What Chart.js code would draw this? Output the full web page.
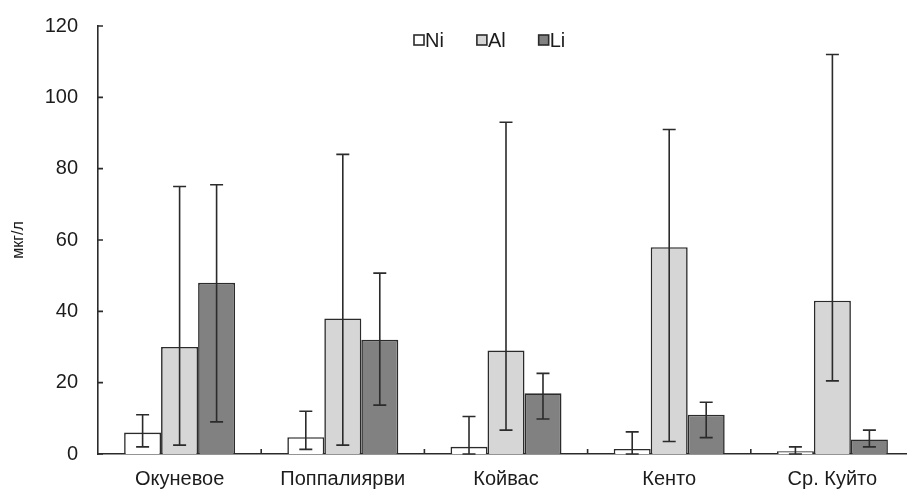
<!DOCTYPE html>
<html>
<head>
<meta charset="utf-8">
<script src="https://cdn.jsdelivr.net/npm/chart.js@4/dist/chart.umd.min.js"></script>
<style>
  html, body { margin: 0; padding: 0; background: #fff; overflow: hidden; }
  #wrap { width: 920px; height: 489px; }
</style>
</head>
<body>
<div id="wrap"><canvas id="chart"></canvas></div>
<script>
// values (мкг/л)
const categories = ['Окуневое', 'Поппалиярви', 'Койвас', 'Кенто', 'Ср. Куйто'];
const yTicks = [0, 20, 40, 60, 80, 100, 120];

const ni     = [6, 4.7, 2, 1.4, 0.8];
const niLow  = [2, 1.3, 0, 0, 0];
const niHigh = [11, 12, 10.5, 6.2, 2];

const al     = [30, 38, 29, 58, 43];
const alLow  = [2.5, 2.5, 6.7, 3.5, 20.5];
const alHigh = [75, 84, 93, 91, 112];

const li     = [48, 32, 17, 11, 4.1];
const liLow  = [9, 13.7, 9.8, 4.6, 2];
const liHigh = [75.5, 50.7, 22.6, 14.5, 6.7];

const ink = '#2b2b2b';
const txt = '#1c1c1c';

// error bars: whiskers from low to high with caps
const errorBars = {
  id: 'errorBars',
  afterDatasetsDraw(chart) {
    const ctx = chart.ctx;
    const y = chart.scales.y;
    ctx.save();
    ctx.strokeStyle = ink;
    ctx.lineWidth = 1.6;
    chart.data.datasets.forEach((ds, i) => {
      const meta = chart.getDatasetMeta(i);
      meta.data.forEach((bar, j) => {
        const x = bar.x;
        const top = y.getPixelForValue(ds.errHigh[j]);
        const bot = y.getPixelForValue(ds.errLow[j]);
        ctx.beginPath();
        ctx.moveTo(x, top); ctx.lineTo(x, bot);
        ctx.moveTo(x - 6.5, top); ctx.lineTo(x + 6.5, top);
        ctx.moveTo(x - 6.5, bot); ctx.lineTo(x + 6.5, bot);
        ctx.stroke();
      });
    });
    ctx.restore();
  }
};

// short tick marks pointing into the plot
const innerTicks = {
  id: 'innerTicks',
  afterDraw(chart) {
    const ctx = chart.ctx;
    const xs = chart.scales.x, ys = chart.scales.y;
    const area = chart.chartArea;
    ctx.save();
    ctx.strokeStyle = ink;
    ctx.lineWidth = 1.6;
    ctx.beginPath();
    yTicks.forEach(v => {
      const py = ys.getPixelForValue(v);
      ctx.moveTo(area.left, py); ctx.lineTo(area.left + 5, py);
    });
    for (let i = 0; i < categories.length - 1; i++) {
      const px = (xs.getPixelForValue(i) + xs.getPixelForValue(i + 1)) / 2;
      ctx.moveTo(px, area.bottom); ctx.lineTo(px, area.bottom - 5);
    }
    ctx.stroke();
    ctx.restore();
  }
};

// legend sits inside the plot, at the top
const topLegend = {
  id: 'topLegend',
  afterDraw(chart) {
    const ctx = chart.ctx;
    const area = chart.chartArea;
    ctx.save();
    ctx.font = '20px "Liberation Sans"';
    ctx.textBaseline = 'middle';
    const yc = area.top + 14;
    let x = area.left + 316;
    chart.data.datasets.forEach(ds => {
      ctx.fillStyle = ds.backgroundColor;
      ctx.fillRect(x, yc - 5, 10, 10);
      ctx.strokeStyle = ink;
      ctx.lineWidth = 1.6;
      ctx.strokeRect(x, yc - 5, 10, 10);
      ctx.fillStyle = txt;
      ctx.fillText(ds.label, x + 11, yc + 1);
      x += 11 + ctx.measureText(ds.label).width + 33;
    });
    ctx.restore();
  }
};

new Chart(document.getElementById('chart'), {
  type: 'bar',
  data: {
    labels: categories,
    datasets: [
      { label: 'Ni', data: ni, errLow: niLow, errHigh: niHigh,
        backgroundColor: '#ffffff', borderColor: ink, borderWidth: 1.6 },
      { label: 'Al', data: al, errLow: alLow, errHigh: alHigh,
        backgroundColor: '#d6d6d6', borderColor: ink, borderWidth: 1.6 },
      { label: 'Li', data: li, errLow: liLow, errHigh: liHigh,
        backgroundColor: '#818181', borderColor: ink, borderWidth: 1.6 }
    ]
  },
  options: {
    responsive: true,
    maintainAspectRatio: false,
    animation: false,
    layout: { padding: { top: 26, right: 6, left: 9, bottom: 0 } },
    datasets: { bar: { categoryPercentage: 0.68, barPercentage: 1.0 } },
    plugins: {
      tooltip: { enabled: false },
      legend: { display: false }
    },
    scales: {
      x: {
        afterFit: s => { s.height = 35; },
        grid: { display: false },
        border: { display: true, color: ink, width: 1.6 },
        ticks: { color: txt, font: { family: 'Liberation Sans', size: 20 }, padding: 5 }
      },
      y: {
        min: 0, max: 120,
        afterFit: s => { s.width = 89; s.paddingTop = 0; s.paddingBottom = 0; },
        grid: { display: false, drawTicks: false },
        border: { display: true, color: ink, width: 1.6 },
        ticks: { stepSize: 20, color: txt, font: { family: 'Liberation Sans', size: 20 }, padding: 20 },
        title: { display: true, text: 'мкг/л', color: txt, font: { family: 'Liberation Sans', size: 16 }, padding: 0 }
      }
    }
  },
  plugins: [errorBars, innerTicks, topLegend]
});
</script>
</body>
</html>
